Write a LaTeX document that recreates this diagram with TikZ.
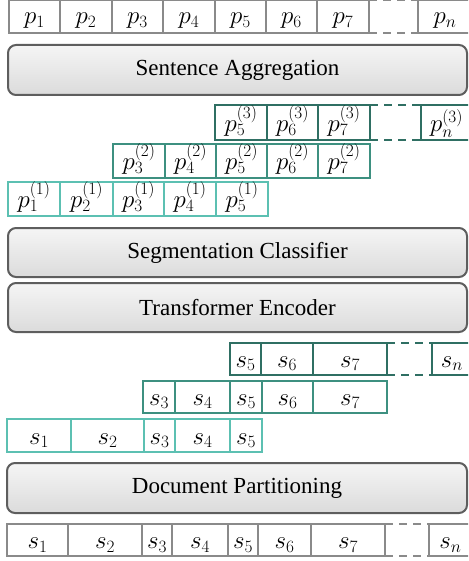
\documentclass[tikz,border=0pt]{standalone}
\usepackage{fontspec}
\setmainfont{Liberation Serif}
\usetikzlibrary{shadings}
\definecolor{tdark}{HTML}{2F6F63}
\definecolor{tmid}{HTML}{3D9080}
\definecolor{tlight}{HTML}{5CC0B2}
\definecolor{rowgray}{HTML}{8A8A8A}
\definecolor{modedge}{HTML}{5E5E5E}
\tikzset{
  cellbase/.style={rectangle, inner sep=0pt, outer sep=0pt},
  graycell/.style={cellbase, draw=rowgray, line width=1.8pt},
  darkcell/.style={cellbase, draw=tdark, line width=2.2pt},
  midcell/.style={cellbase, draw=tmid, line width=2.2pt},
  lightcell/.style={cellbase, draw=tlight, line width=2.2pt},
  lbl/.style={anchor=base, inner sep=0pt, font=\fontsize{26}{30}\selectfont},
  module/.style={rectangle, rounded corners=8pt, draw=modedge, line width=2pt,
    top color=white!96!black, bottom color=white!86!black, inner sep=0pt,
    font=\fontsize{23}{27}\selectfont},
  gapline/.style={dashed, dash pattern=on 8pt off 6pt, line width=1.8pt}
}
% name, x1, x2, y1, y2, style, label, baseline offset
\newcommand\mkcell[8]{%
  \pgfmathsetmacro\cw{#3-#2}\pgfmathsetmacro\ch{#5-#4}%
  \node[#6, minimum width=\cw pt, minimum height=\ch pt] (#1) at ({(#2+#3)/2},{(#4+#5)/2}) {};
  \node[lbl] (#1l) at ([yshift=#8pt]#1.south) {$#7$};
}
\newcommand\mkmodule[6]{% name x1 x2 y1 y2 text
  \pgfmathsetmacro\cw{#3-#2}\pgfmathsetmacro\ch{#5-#4}%
  \node[module, minimum width=\cw pt, minimum height=\ch pt] (#1) at ({(#2+#3)/2},{(#4+#5)/2}) {#6};
}
\begin{document}
\begin{tikzpicture}[x=1pt,y=-1pt]
\useasboundingbox (0,0) rectangle (468,561);
\begin{scope}
\clip (0,-1) rectangle (468,562);
% top p row
\foreach \a/\b/\n/\t in {9/60/pa/p_1, 60/112/pb/p_2, 112/163/pc/p_3, 163/215/pd/p_4, 215/266/pe/p_5, 266/317/pf/p_6, 317/369/pg/p_7, 418/472/pn/p_n}
  {\mkcell{\n}{\a}{\b}{0}{33}{graycell}{\t}{9.5}}
\draw[gapline, draw=rowgray] (pg.north east) -- (pn.north west);
\draw[gapline, draw=rowgray] (pg.south east) -- (pn.south west);

\mkmodule{agg}{8}{467}{45}{95}{Sentence Aggregation}

% p^(3) row
\foreach \a/\b/\n/\t in {215/267/qe/p^{(3)}_5, 267/318/qf/p^{(3)}_6, 318/370/qg/p^{(3)}_7, 421/472/qn/p^{(3)}_n}
  {\mkcell{\n}{\a}{\b}{105}{140}{darkcell}{\t}{8.5}}
\draw[gapline, draw=tdark] (qg.north east) -- (qn.north west);
\draw[gapline, draw=tdark] (qg.south east) -- (qn.south west);
% p^(2) row
\foreach \a/\b/\n/\t in {113/165/rc/p^{(2)}_3, 165/216/rd/p^{(2)}_4, 216/267/re/p^{(2)}_5, 267/318/rf/p^{(2)}_6, 318/370/rg/p^{(2)}_7}
  {\mkcell{\n}{\a}{\b}{144}{178}{midcell}{\t}{8.5}}
% p^(1) row
\foreach \a/\b/\n/\t in {8/60/ua/p^{(1)}_1, 60/113/ub/p^{(1)}_2, 113/164/uc/p^{(1)}_3, 164/216/ud/p^{(1)}_4, 216/268/ue/p^{(1)}_5}
  {\mkcell{\n}{\a}{\b}{182}{216}{lightcell}{\t}{8.5}}

\mkmodule{seg}{8}{467}{228}{277}{Segmentation Classifier}
\mkmodule{enc}{8}{467}{283}{332}{Transformer Encoder}

% s windows
\foreach \a/\b/\n/\t in {230/261/ve/s_5, 261/313/vf/s_6, 313/387/vg/s_7, 432/472/vn/s_n}
  {\mkcell{\n}{\a}{\b}{343}{375}{darkcell}{\t}{8}}
\draw[gapline, draw=tdark] (vg.north east) -- (vn.north west);
\draw[gapline, draw=tdark] (vg.south east) -- (vn.south west);
\foreach \a/\b/\n/\t in {143/175/wc/s_3, 175/230/wd/s_4, 230/262/we/s_5, 262/313/wf/s_6, 313/387/wg/s_7}
  {\mkcell{\n}{\a}{\b}{381}{413}{midcell}{\t}{8}}
\foreach \a/\b/\n/\t in {7/71/xa/s_1, 71/144/xb/s_2, 144/175/xc/s_3, 175/230/xd/s_4, 230/262/xe/s_5}
  {\mkcell{\n}{\a}{\b}{419}{452}{lightcell}{\t}{8}}

\mkmodule{part}{7}{467}{463}{513}{Document Partitioning}

% bottom s row
\foreach \a/\b/\n/\t in {7/68/ya/s_1, 68/142/yb/s_2, 142/172/yc/s_3, 172/228/yd/s_4, 228/258/ye/s_5, 258/311/yf/s_6, 311/385/yg/s_7, 429/472/yn/s_n}
  {\mkcell{\n}{\a}{\b}{524}{556}{graycell}{\t}{7.5}}
\draw[gapline, draw=rowgray] (yg.north east) -- (yn.north west);
\draw[gapline, draw=rowgray] (yg.south east) -- (yn.south west);
\end{scope}
\end{tikzpicture}
\end{document}
